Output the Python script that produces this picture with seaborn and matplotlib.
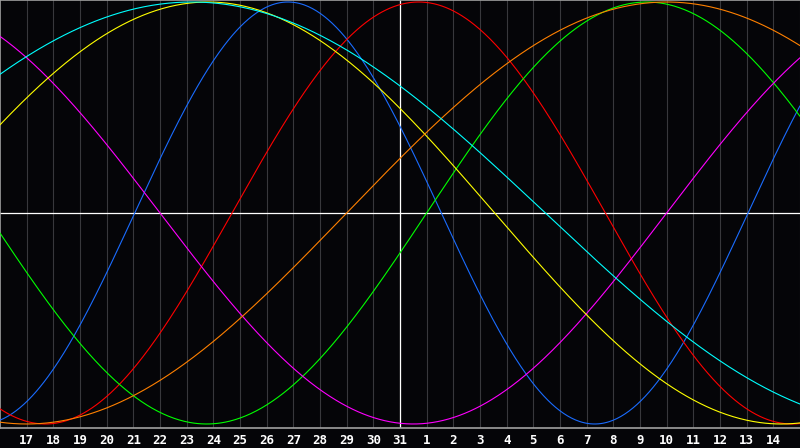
import numpy as np
import pandas as pd
import matplotlib
matplotlib.use('Agg')
import matplotlib.pyplot as plt
import seaborn as sns

# day labels along the bottom (index 0..30), today = 31
days = list(range(16, 32)) + list(range(1, 16))
today_index = 15

# biorhythm cycles: period in days and the day index of the peak
cycle_names = ['physical', 'emotional', 'intellectual', 'intuitive',
               'aesthetic', 'awareness', 'spiritual']
cycle_periods = [23, 28, 33, 38, 43, 48, 53]
cycle_peak = [10.8, 15.7, 24.25, 34.5, 7.8, 25.0, 7.2]
cycle_colors = ['#1a6cff', '#ff0000', '#00ff00', '#ff00ff',
                '#ffff00', '#ff8000', '#00ffff']

t = np.linspace(0, len(days) - 1, 600)
rows = []
for name, period, peak in zip(cycle_names, cycle_periods, cycle_peak):
    vals = np.cos(2 * np.pi * (t - peak) / period)
    rows.append(pd.DataFrame({'day': t, 'value': vals, 'cycle': name}))
df = pd.concat(rows, ignore_index=True)

sns.set_style('dark', {'axes.facecolor': '#050508', 'figure.facecolor': '#050508'})
plt.rcParams['font.family'] = ['DejaVu Sans Mono', 'DejaVu Sans']

fig = plt.figure(figsize=(8, 4.48), dpi=100)
ax = fig.add_axes([0, 20 / 448, 1, 428 / 448])

# vertical day grid
for i in range(1, len(days)):
    ax.axvline(i, color='#38383c', lw=0.8, zorder=0)

sns.lineplot(data=df, x='day', y='value', hue='cycle', hue_order=cycle_names,
             palette=dict(zip(cycle_names, cycle_colors)), lw=0.8,
             legend=False, ax=ax, zorder=3)

ax.axhline(0, color='white', lw=0.9, zorder=2)
ax.axvline(today_index, color='white', lw=0.9, zorder=2)

ax.set_xlim(0, len(days) - 1)
ax.set_ylim(-1.019, 1.0095)
ax.set_xticks(range(1, len(days) - 1))
ax.set_xticklabels([str(d) for d in days[1:-1]], color='white',
                   fontsize=9, fontweight='bold')
ax.set_yticks([])
ax.tick_params(axis='x', length=0, pad=4)
ax.set_xlabel('')
ax.set_ylabel('')
ax.grid(False)

for side in ['left', 'top', 'bottom']:
    ax.spines[side].set_visible(True)
    ax.spines[side].set_color('#a0a0a0')
    ax.spines[side].set_linewidth(1.2)
ax.spines['right'].set_visible(False)

fig.savefig('out.png', dpi=100, facecolor='#050508')
